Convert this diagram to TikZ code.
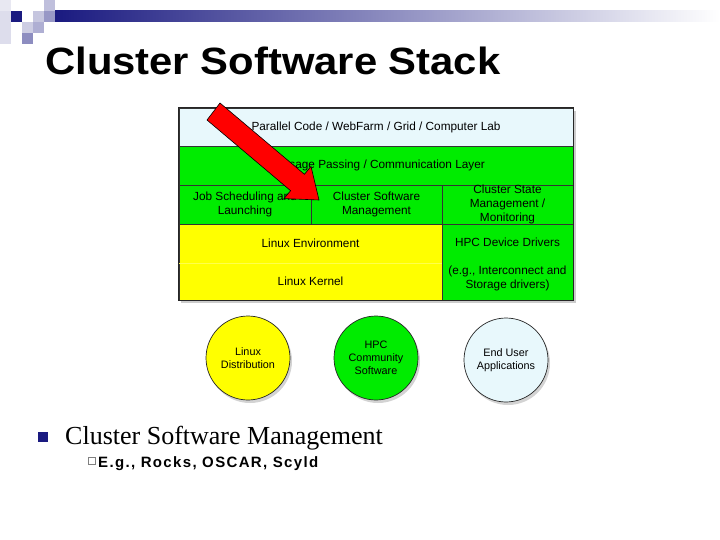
\documentclass[tikz,border=0pt]{standalone}
\usepackage{fontspec}
\setmainfont{Liberation Serif}
\setsansfont{Liberation Sans}
\newfontfamily\spacedsans[LetterSpace=9]{Liberation Sans}
\usetikzlibrary{shadows}

\definecolor{navy}{RGB}{26,26,128}
\definecolor{skyfill}{RGB}{232,248,252}
\definecolor{limefill}{RGB}{0,236,0}
\definecolor{lemonfill}{RGB}{255,255,0}

\begin{document}
\begin{tikzpicture}[
    x=1pt, y=-1pt,
    every node/.style={font=\sffamily},
    cell/.style={draw=black!80, line width=0.5pt, inner sep=0pt, align=center,
        font=\sffamily\fontsize{11.8}{13.6}\selectfont},
    bubble/.style={circle, draw=black!85, line width=0.7pt, minimum size=84pt,
        inner sep=0pt, align=center, font=\sffamily\fontsize{10.8}{13}\selectfont,
        drop shadow={shadow xshift=2pt, shadow yshift=-3pt, opacity=0.35}},
]
\useasboundingbox (0,0) rectangle (720,540);

% === Slide decoration (top-left squares and banner) ===
\fill[navy!10] (0,0) rectangle (11,11);
\fill[navy!15] (0,11) rectangle (11,44);
\fill[navy] (11,11) rectangle (22,22);
\fill[navy!25] (33,11) rectangle (44,22);
\fill[navy!28] (44,0) rectangle (55,11);
\fill[navy!45] (44,11) rectangle (55,22);
\fill[navy!22] (22,22) rectangle (33,33);
\fill[navy!35] (33,22) rectangle (44,33);
\fill[navy!50] (22,33) rectangle (33,44);
\shade[left color=navy, right color=white] (55,11) rectangle (720,22);

% === Title ===
\node[anchor=base west, inner sep=0pt, font=\sffamily\bfseries\fontsize{38}{40}\selectfont]
    (title) at (45,75) {\scalebox{1.1}[1]{Cluster Software Stack}};

% === Software stack ===
\fill[black, opacity=0.2] (181,111) rectangle (576,303);

\node[cell, fill=skyfill, minimum width=394pt, minimum height=38pt]
    (apps) at (376,127) {Parallel Code / WebFarm / Grid / Computer Lab};
\node[cell, fill=limefill, minimum width=394pt, minimum height=39pt]
    (msg) at (376,165.5) {Message Passing / Communication Layer};
\node[cell, fill=limefill, minimum width=132pt, minimum height=39pt]
    (job) at (245,204.5) {Job Scheduling and\\Launching};
\node[cell, fill=limefill, minimum width=131pt, minimum height=39pt]
    (csm) at (376.5,204.5) {Cluster Software\\Management};
\node[cell, fill=limefill, minimum width=131pt, minimum height=39pt]
    (state) at (507.5,204.5) {Cluster State\\Management /\\Monitoring};
\node[cell, fill=lemonfill, minimum width=263pt, minimum height=39pt]
    (env) at (310.5,243.5) {Linux Environment};
\node[cell, fill=lemonfill, minimum width=263pt, minimum height=37pt]
    (kernel) at (310.5,281.5) {Linux Kernel};
\node[cell, fill=limefill, minimum width=131pt, minimum height=76pt]
    (drivers) at (507.5,262) {};
\node[align=center, font=\sffamily\fontsize{11.8}{14}\selectfont]
    (driverstext) at (507.5,264) {HPC Device Drivers\\[14pt](e.g., Interconnect and\\Storage drivers)};

% faint split inside the yellow block, then the outer frame
\draw[lemonfill!70!white, line width=0.8pt] (env.south west) -- (env.south east);
\draw[black!85, line width=0.7pt] (apps.north west) rectangle (kernel.south -| drivers.east);

% === Pointer arrow onto Cluster Software Management ===
\filldraw[fill=red, draw=black, line width=0.6pt]
    (207,120) -- (220,103) -- (304.4,174.3) -- (311,166.4) -- (319,200)
    -- (284,198.6) -- (290.6,190.7) -- cycle;

% === Software sources ===
\node[bubble, fill=lemonfill] (distro) at (248,358) {Linux\\Distribution};
\node[bubble, fill=limefill] (community) at (376,358) {HPC\\Community\\Software};
\node[bubble, fill=skyfill] (enduser) at (506,360) {End User\\Applications};

% === Bullets ===
\fill[navy] (38,432) rectangle (48,442);
\node[anchor=base west, inner sep=0pt, font=\rmfamily\fontsize{26}{28}\selectfont]
    (point) at (65,444) {Cluster Software Management};
\draw[black!50, line width=0.5pt] (88,457) rectangle (95,464);
\node[anchor=base west, inner sep=0pt, font=\spacedsans\bfseries\fontsize{15}{16}\selectfont]
    (subpoint) at (98,467) {E.g., Rocks, OSCAR, Scyld};

\end{tikzpicture}
\end{document}
